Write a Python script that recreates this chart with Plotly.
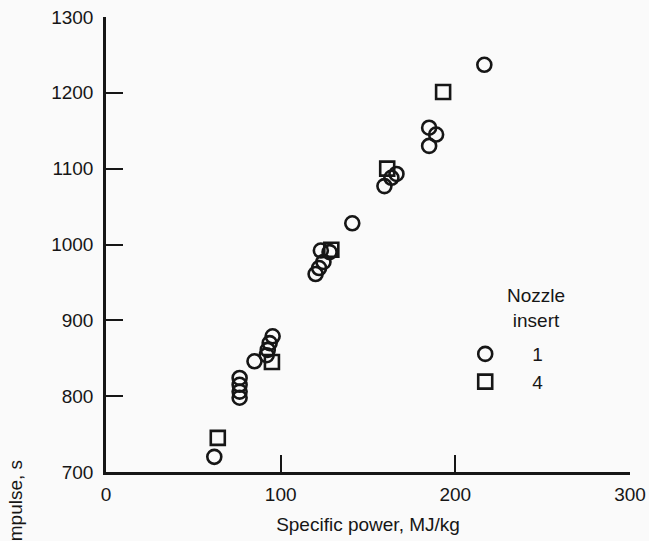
import plotly.graph_objects as go

# Data
insert1_power = [62, 76.5, 76.5, 76.5, 76.5, 85, 92, 92.6, 93.7, 95.4,
                 120, 122, 124.5, 123, 128, 141, 159.4, 163.4, 166.3,
                 185, 189, 185, 216.6]
insert1_isp = [720, 798, 806, 815, 824, 846, 854, 861, 870, 879,
               961, 969, 977, 992, 990, 1028, 1077, 1088, 1093,
               1130, 1145, 1154, 1237]

insert4_power = [64, 95, 129, 161, 193]
insert4_isp = [745, 845, 993, 1100, 1201]

x_ticks = [0, 100, 200, 300]
y_ticks = [700, 800, 900, 1000, 1100, 1200, 1300]

INK = "#161616"
FONT = "Liberation Sans, Arial, sans-serif"

fig = go.Figure()
fig.add_trace(go.Scatter(
    x=insert1_power, y=insert1_isp, mode="markers", name="1",
    marker=dict(symbol="circle-open", size=14, color=INK, line=dict(width=2.6, color=INK)),
))
fig.add_trace(go.Scatter(
    x=insert4_power, y=insert4_isp, mode="markers", name="4",
    marker=dict(symbol="square-open", size=14, color=INK, line=dict(width=2.6, color=INK)),
))

axis_common = dict(
    showline=True, linecolor=INK, linewidth=2.5,
    ticks="inside", ticklen=17, tickwidth=2, tickcolor=INK,
    showgrid=False, zeroline=False, automargin=False,
    tickfont=dict(family=FONT, size=19, color=INK),
)

fig.update_layout(
    width=649, height=541,
    margin=dict(l=106, r=19, t=17, b=69, autoexpand=False),
    paper_bgcolor="#fafafa", plot_bgcolor="#fafafa",
    font=dict(family=FONT, size=19, color=INK),
    xaxis=dict(range=[0, 300], tickvals=x_ticks, ticklabelstandoff=3,
               title=dict(text="Specific power, MJ/kg", standoff=15,
                          font=dict(family=FONT, size=19, color=INK)),
               **axis_common),
    yaxis=dict(range=[700, 1300], tickvals=y_ticks, ticklabelstandoff=6,
               **axis_common),
    showlegend=True,
    legend=dict(x=0.634, y=0.301, xanchor="left", yanchor="top",
                bgcolor="rgba(0,0,0,0)", itemwidth=84,
                font=dict(family=FONT, size=19, color=INK)),
    annotations=[
        dict(text="Nozzle<br>insert", xref="paper", yref="paper",
             x=0.8206, y=0.3604, xanchor="center", yanchor="middle",
             showarrow=False, font=dict(family=FONT, size=19, color=INK)),
        dict(text="Specific impulse, s", xref="paper", yref="paper",
             x=-0.172, y=0.031, xanchor="center", yanchor="top",
             textangle=-90, showarrow=False,
             font=dict(family=FONT, size=19, color=INK)),
    ],
)

fig.write_html("out.html")
